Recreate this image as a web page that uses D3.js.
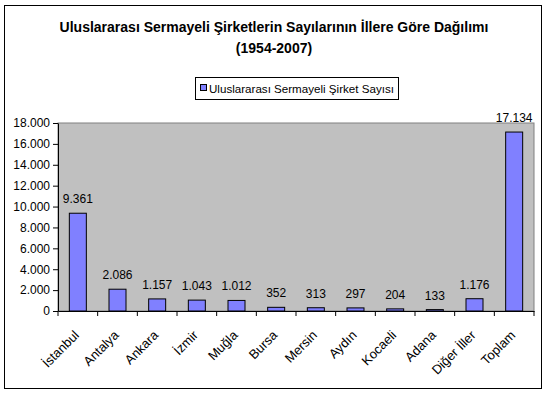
<!DOCTYPE html>
<html>
<head>
<meta charset="utf-8">
<script src="https://cdn.jsdelivr.net/npm/d3@7"></script>
<style>
  body { margin: 0; background: #fff; }
  svg { font-family: "Liberation Sans", Arial, sans-serif; }
</style>
</head>
<body>
<div id="chart"></div>
<script>
const W = 548, H = 394;
const cities = ['İstanbul', 'Antalya', 'Ankara', 'İzmir', 'Muğla', 'Bursa', 'Mersin', 'Aydın', 'Kocaeli', 'Adana', 'Diğer İller', 'Toplam'];
const counts = [9361, 2086, 1157, 1043, 1012, 352, 313, 297, 204, 133, 1176, 17134];
const yTicks = [0, 2000, 4000, 6000, 8000, 10000, 12000, 14000, 16000, 18000];

const m = { left: 58, right: 534, top: 123, bottom: 311 };

// thousands with dots, like the Turkish Excel export
const fmt = (v) => d3.format(',')(v).replace(/,/g, '.');

const svg = d3.select('#chart')
  .append('svg')
  .attr('width', W)
  .attr('height', H);

svg.append('rect')
  .attr('x', 4.5).attr('y', 5.5)
  .attr('width', 537).attr('height', 383)
  .style('fill', '#fff')
  .style('stroke', '#000');

svg.append('text')
  .attr('x', 274).attr('y', 32)
  .attr('text-anchor', 'middle')
  .style('font-size', '14px').style('font-weight', 'bold')
  .text('Uluslararası Sermayeli Şirketlerin Sayılarının İllere Göre Dağılımı');
svg.append('text')
  .attr('x', 274).attr('y', 53)
  .attr('text-anchor', 'middle')
  .style('font-size', '14px').style('font-weight', 'bold')
  .text('(1954-2007)');

// legend
const lg = svg.append('g');
lg.append('rect')
  .attr('x', 195.5).attr('y', 77.5)
  .attr('width', 203).attr('height', 22)
  .style('fill', '#fff').style('stroke', '#000');
lg.append('rect')
  .attr('x', 200.5).attr('y', 84.5)
  .attr('width', 6).attr('height', 6)
  .style('fill', '#8080ff').style('stroke', '#000');
lg.append('text')
  .attr('x', 209).attr('y', 93)
  .style('font-size', '11.6px')
  .text('Uluslararası Sermayeli Şirket Sayısı');

const x = d3.scaleBand().domain(cities).range([m.left, m.right]);
const y = d3.scaleLinear().domain([0, 18000]).range([m.bottom, m.top]);

svg.append('rect')
  .attr('x', m.left).attr('y', m.top)
  .attr('width', m.right - m.left).attr('height', m.bottom - m.top)
  .style('fill', '#c0c0c0')
  .style('stroke', '#808080');

const yAxis = svg.append('g')
  .attr('transform', `translate(${m.left},0)`)
  .call(d3.axisLeft(y).tickValues(yTicks).tickFormat(fmt).tickSize(5).tickSizeOuter(0));

const xAxis = svg.append('g')
  .attr('transform', `translate(0,${m.bottom})`)
  .call(d3.axisBottom(x).tickSize(0).tickSizeOuter(0));

xAxis.selectAll('.tick text').remove();
svg.append('g').selectAll('line')
  .data(d3.range(cities.length + 1))
  .enter()
  .append('line')
  .attr('x1', (i) => m.left + i * x.step())
  .attr('x2', (i) => m.left + i * x.step())
  .attr('y1', m.bottom).attr('y2', m.bottom + 5)
  .style('stroke', '#000');

svg.selectAll('.domain').style('stroke', '#000');
yAxis.selectAll('.tick text')
  .style('font-size', '12px').style('fill', '#000')
  .attr('x', -8);
yAxis.selectAll('.tick line').style('stroke', '#000');

const bw = 17;
svg.append('g').selectAll('rect')
  .data(counts)
  .enter()
  .append('rect')
  .attr('x', (d, i) => x(cities[i]) + x.bandwidth() / 2 - bw / 2)
  .attr('y', (d) => y(d))
  .attr('width', bw)
  .attr('height', (d) => m.bottom - y(d))
  .style('fill', '#8080ff')
  .style('stroke', '#000');

svg.append('g').selectAll('text')
  .data(counts)
  .enter()
  .append('text')
  .attr('x', (d, i) => x(cities[i]) + x.bandwidth() / 2)
  .attr('y', (d) => y(d) - 10)
  .attr('text-anchor', 'middle')
  .style('font-size', '12px')
  .text((d) => fmt(d));

svg.append('g').selectAll('text')
  .data(cities)
  .enter()
  .append('text')
  .attr('transform', (d) => `translate(${x(d) + x.bandwidth() / 2 + 2},${m.bottom + 25}) rotate(-45)`)
  .attr('text-anchor', 'end')
  .style('font-size', '13px')
  .text((d) => d);
</script>
</body>
</html>
